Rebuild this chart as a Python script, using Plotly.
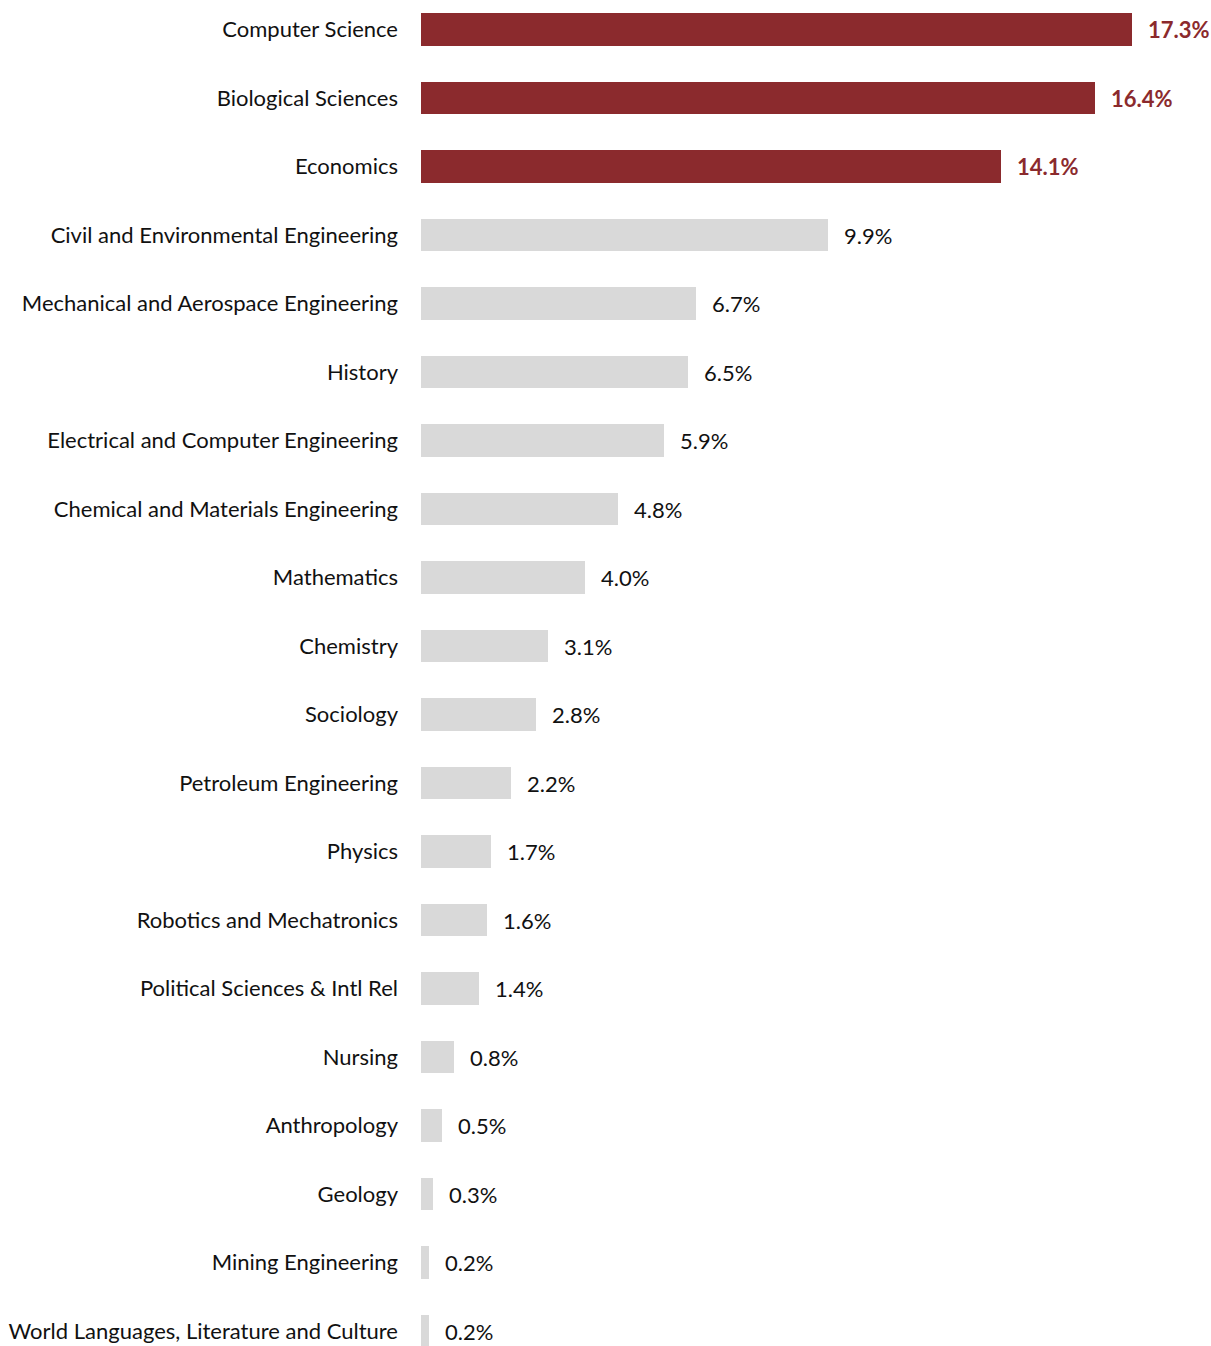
import plotly.graph_objects as go

majors = [
    "Computer Science",
    "Biological Sciences",
    "Economics",
    "Civil and Environmental Engineering",
    "Mechanical and Aerospace Engineering",
    "History",
    "Electrical and Computer Engineering",
    "Chemical and Materials Engineering",
    "Mathematics",
    "Chemistry",
    "Sociology",
    "Petroleum Engineering",
    "Physics",
    "Robotics and Mechatronics",
    "Political Sciences & Intl Rel",
    "Nursing",
    "Anthropology",
    "Geology",
    "Mining Engineering",
    "World Languages, Literature and Culture",
]
shares = [17.3, 16.4, 14.1, 9.9, 6.7, 6.5, 5.9, 4.8, 4.0, 3.1,
          2.8, 2.2, 1.7, 1.6, 1.4, 0.8, 0.5, 0.3, 0.2, 0.2]
top_n = 3  # leading majors shown in the accent colour

ACCENT = "#8B2A2D"
MUTED = "#D9D9D9"
FONT = "Lato"
SIZE = 22

colors = [ACCENT if i < top_n else MUTED for i in range(len(majors))]

fig = go.Figure(
    go.Bar(
        x=shares,
        y=majors,
        orientation="h",
        marker=dict(color=colors, line=dict(width=0)),
        width=0.48,
        hoverinfo="skip",
    )
)

# value labels to the right of each bar
for i, (m, v) in enumerate(zip(majors, shares)):
    hi = i < top_n
    fig.add_annotation(
        x=v, y=m, text=f"{v:.1f}%",
        xanchor="left", yanchor="middle", xshift=14,
        showarrow=False,
        font=dict(family=FONT, size=SIZE, color=ACCENT if hi else "#111111",
                  weight="bold" if hi else "normal"),
    )

fig.update_layout(
    width=1211, height=1346,
    margin=dict(l=421, r=0, t=0, b=0),
    paper_bgcolor="white", plot_bgcolor="white",
    showlegend=False,
    bargap=0,
    font=dict(family=FONT, size=SIZE, color="#111111"),
)
fig.update_xaxes(range=[0, 19.22], visible=False, showgrid=False, zeroline=False)
fig.update_yaxes(
    type="category",
    categoryorder="array", categoryarray=majors,
    range=[19.219, -0.431],
    showgrid=False, zeroline=False, showline=False,
    ticks="", ticklabelstandoff=22,
    tickfont=dict(family=FONT, size=SIZE, color="#111111"),
)

fig.write_html("out.html")
